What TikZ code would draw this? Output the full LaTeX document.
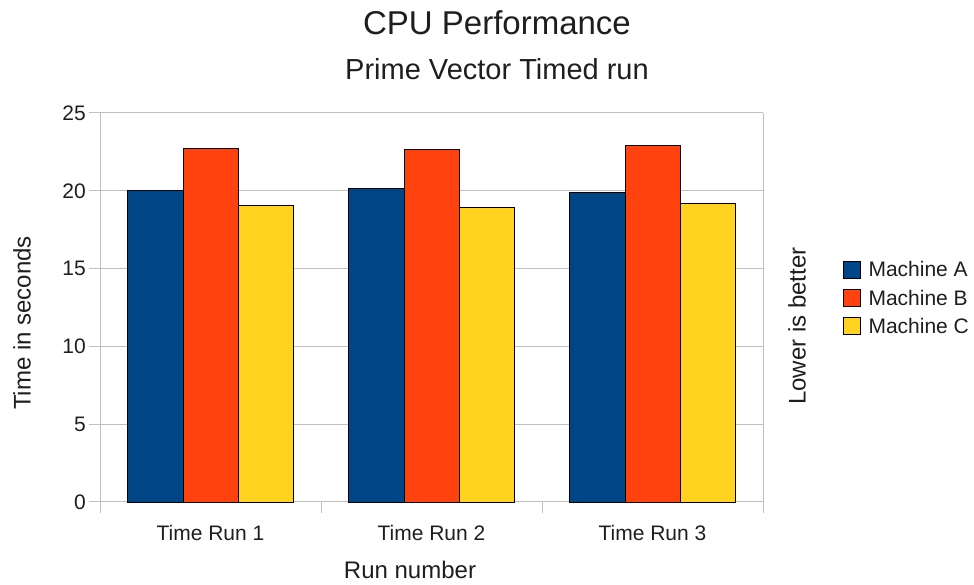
\documentclass[tikz,border=0pt]{standalone}
\usepackage{fontspec}
\setmainfont{Liberation Sans}
\usepackage{tikz}
\usetikzlibrary{positioning}
\definecolor{machA}{RGB}{0,69,134}
\definecolor{machB}{RGB}{255,66,14}
\definecolor{machC}{RGB}{255,211,32}
\definecolor{gridgray}{RGB}{192,192,192}
\definecolor{txt}{RGB}{30,30,30}

\begin{document}
\begin{tikzpicture}[x=1pt,y=1pt,
  gridline/.style={gridgray,line width=1pt},
  bar/.style={draw=black,line width=0.6pt},
  ticklbl/.style={font=\fontsize{21}{25}\selectfont,text=txt,inner sep=0pt},
  axislbl/.style={font=\fontsize{24}{29}\selectfont,text=txt,inner sep=0pt},
  legkey/.style={draw=black,line width=0.6pt,minimum size=17pt,inner sep=0pt}]
  \useasboundingbox (0,0) rectangle (974,585);
  % Titles
  \node[anchor=base,font=\fontsize{33}{40}\selectfont,text=txt] (title) at (497,550) {CPU Performance};
  \node[anchor=base,font=\fontsize{29}{35}\selectfont,text=txt] (subtitle) at (497,505) {Prime Vector Timed run};
  % Plot area: grid, axes, bars
  \begin{scope}[shift={(100,83)},y=15.56pt]
    \foreach \v in {0,5,...,25}{
      \draw[gridline] (-11,\v)--(663,\v);
      \node[ticklbl,anchor=east] (ytick\v) at (-14,\v) {\v};
    }
    \draw[gridline] (0,-11pt)--(0,25);
    \draw[gridline] (663,-11pt)--(663,25);
    \draw[gridline] (221,0)--(221,-11pt);
    \draw[gridline] (442,0)--(442,-11pt);
    % Time Run 1
    \filldraw[bar,fill=machA] (27.6,0) rectangle (82.9,20.03);
    \filldraw[bar,fill=machB] (82.9,0) rectangle (138.2,22.70);
    \filldraw[bar,fill=machC] (138.2,0) rectangle (193.5,19.05);
    % Time Run 2
    \filldraw[bar,fill=machA] (248.6,0) rectangle (303.9,20.16);
    \filldraw[bar,fill=machB] (303.9,0) rectangle (359.2,22.67);
    \filldraw[bar,fill=machC] (359.2,0) rectangle (414.5,18.94);
    % Time Run 3
    \filldraw[bar,fill=machA] (469.6,0) rectangle (524.9,19.90);
    \filldraw[bar,fill=machB] (524.9,0) rectangle (580.2,22.92);
    \filldraw[bar,fill=machC] (580.2,0) rectangle (635.5,19.22);
  \end{scope}
  % Category labels
  \node[ticklbl,anchor=base] (run1) at (210.5,44) {Time Run 1};
  \node[ticklbl,anchor=base] (run2) at (431.5,44) {Time Run 2};
  \node[ticklbl,anchor=base] (run3) at (652.5,44) {Time Run 3};
  % Axis titles
  \node[axislbl,anchor=base] (xlabel) at (410,6) {Run number};
  \node[axislbl,rotate=90] (ylabel) at (22,262) {Time in seconds};
  \node[axislbl,rotate=90] (note) at (797,259) {Lower is better};
  % Legend
  \node[legkey,fill=machA] (keyA) at (851.5,315.5) {};
  \node[legkey,fill=machB,below=10.5pt of keyA] (keyB) {};
  \node[legkey,fill=machC,below=10.5pt of keyB] (keyC) {};
  \node[ticklbl,right=8pt of keyA] (legA) {Machine A};
  \node[ticklbl,right=8pt of keyB] (legB) {Machine B};
  \node[ticklbl,right=8pt of keyC] (legC) {Machine C};
\end{tikzpicture}
\end{document}
